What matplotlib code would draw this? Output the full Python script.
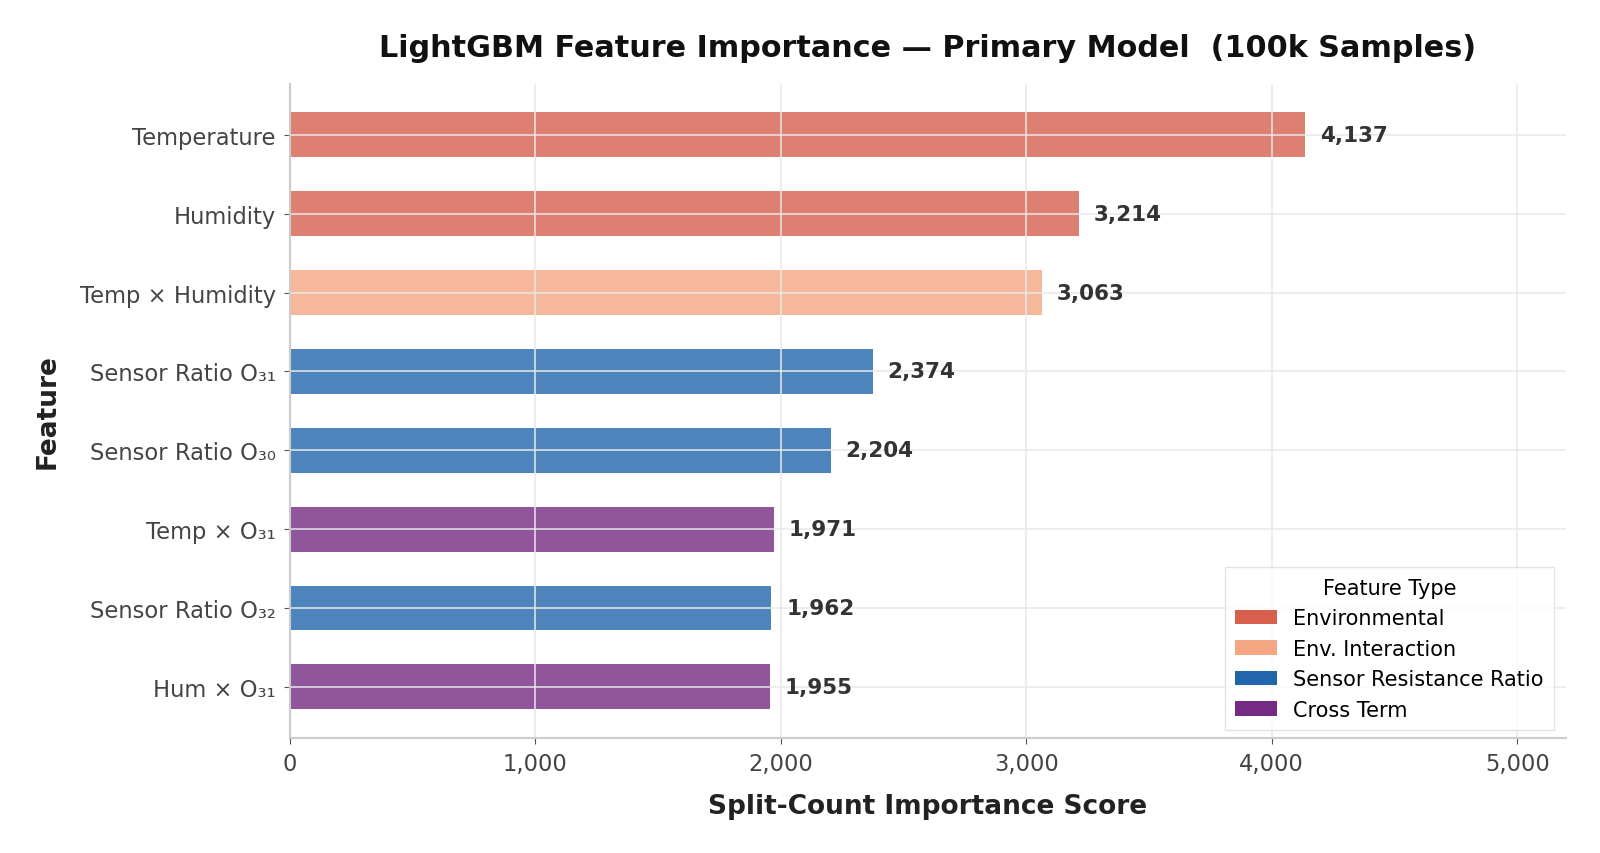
import numpy as np
import matplotlib.pyplot as plt
from matplotlib.patches import Patch

features = ['Temperature', 'Humidity', 'Temp × Humidity', 'Sensor Ratio O₃₁',
            'Sensor Ratio O₃₀', 'Temp × O₃₁', 'Sensor Ratio O₃₂', 'Hum × O₃₁']
scores = [4137, 3214, 3063, 2374, 2204, 1971, 1962, 1955]
ftypes = ['Environmental', 'Environmental', 'Env. Interaction', 'Sensor Resistance Ratio',
          'Sensor Resistance Ratio', 'Cross Term', 'Sensor Resistance Ratio', 'Cross Term']

type_colors = {
    'Environmental': '#d6604d',
    'Env. Interaction': '#f4a582',
    'Sensor Resistance Ratio': '#2166ac',
    'Cross Term': '#762a83',
}

fig, ax = plt.subplots(figsize=(16, 8.54), dpi=100)
fig.subplots_adjust(left=0.181, right=0.979, top=0.901, bottom=0.1345)

y = np.arange(len(features))
ax.barh(y, scores, height=0.57, color=[type_colors[t] for t in ftypes], alpha=0.8, zorder=1)

for yi, s in zip(y, scores):
    ax.text(s + 60, yi, f'{s:,}', va='center', ha='left', fontsize=15.5,
            fontweight='bold', color='#333333', zorder=4)

ax.set_yticks(y)
ax.set_yticklabels(features)
ax.set_ylim(len(features) - 0.35, -0.65)
ax.set_xlim(0, 5200)
ax.set_xticks([0, 1000, 2000, 3000, 4000, 5000])
ax.xaxis.set_major_formatter(plt.FuncFormatter(lambda v, p: f'{int(v):,}'))

ax.grid(True, color='#e8e8e8', linewidth=1.1, zorder=2)
ax.set_axisbelow(False)

for side in ['top', 'right']:
    ax.spines[side].set_visible(False)
for side in ['left', 'bottom']:
    ax.spines[side].set_color('#cccccc')
    ax.spines[side].set_linewidth(1.5)
    ax.spines[side].set_zorder(3)

ax.tick_params(axis='both', labelsize=16.3, labelcolor='#444444', color='#555555',
               length=4, pad=6)

ax.set_xlabel('Split-Count Importance Score', fontsize=19, fontweight='bold',
              color='#222222', labelpad=13)
ax.set_ylabel('Feature', fontsize=19, fontweight='bold', color='#222222', labelpad=14)
ax.set_title('LightGBM Feature Importance — Primary Model  (100k Samples)',
             fontsize=21.8, fontweight='bold', color='#111111', pad=20)

handles = [Patch(facecolor=c, label=k) for k, c in type_colors.items()]
leg = ax.legend(handles=handles, title='Feature Type', loc='lower right', fontsize=15,
                title_fontsize=15, frameon=True, fancybox=False, edgecolor='#dddddd',
                handlelength=2.0, handletextpad=0.8, borderpad=0.5, labelspacing=0.5,
                borderaxespad=0.0, bbox_to_anchor=(0.9905, 0.0125))
leg.set_zorder(5)

fig.savefig('out.png', dpi=100, facecolor='white')
